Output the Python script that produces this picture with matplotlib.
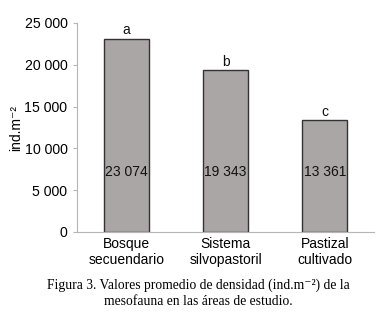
import matplotlib.pyplot as plt

categories = ["Bosque\nsecuendario", "Sistema\nsilvopastoril", "Pastizal\ncultivado"]
values = [23074, 19343, 13361]
value_labels = ["23 074", "19 343", "13 361"]
letters = ["a", "b", "c"]
yticks = [0, 5000, 10000, 15000, 20000, 25000]
ytick_labels = ["0", "5 000", "10 000", "15 000", "20 000", "25 000"]

plt.rcParams["font.family"] = ["Liberation Sans", "DejaVu Sans"]

fig = plt.figure(figsize=(3.78, 3.19), dpi=100)
ax = fig.add_axes([0.204, 0.273, 0.786, 0.655])

x = range(len(categories))
ax.bar(x, values, width=0.45, color="#aba6a6", edgecolor="#333333", linewidth=1.0)

for i, v in enumerate(values):
    ax.text(i, 7200, value_labels[i], ha="center", va="center", fontsize=10, color="#111111")
    ax.text(i, v + 200, letters[i], ha="center", va="bottom", fontsize=10, color="#111111")

ax.set_xlim(-0.5, 2.5)
ax.set_ylim(0, 25000)
ax.set_yticks(yticks)
ax.set_yticklabels(ytick_labels, fontsize=10.2)
ax.set_xticks(list(x))
ax.set_xticklabels(categories, fontsize=10, linespacing=1.15)
ax.tick_params(axis="x", length=0, pad=4)
ax.tick_params(axis="y", length=3, color="#b5b5b5", pad=4)

for side in ["top", "right"]:
    ax.spines[side].set_visible(False)
for side in ["left", "bottom"]:
    ax.spines[side].set_color("#b5b5b5")
    ax.spines[side].set_linewidth(0.8)

# y label placed by hand, left of the tick labels
fig.text(16 / 378, 1 - 128 / 319, "ind.m⁻²", rotation=90, ha="center", va="center", fontsize=10)

fig.text(0.525, 0.107, "Figura 3. Valores promedio de densidad (ind.m⁻²) de la",
         ha="center", va="center", fontsize=9.8, family=["Liberation Serif", "DejaVu Serif"])
fig.text(0.525, 0.056, "mesofauna en las áreas de estudio.",
         ha="center", va="center", fontsize=9.8, family=["Liberation Serif", "DejaVu Serif"])

fig.savefig("out.png", dpi=100)
